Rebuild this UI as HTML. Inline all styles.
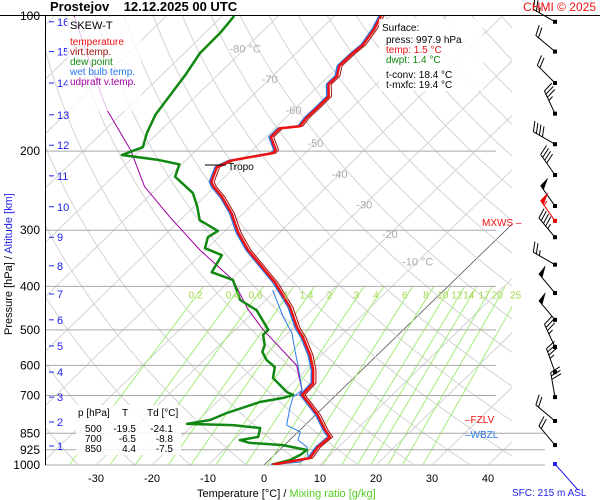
<!DOCTYPE html>
<html><head><meta charset="utf-8"><style>
html,body{margin:0;padding:0;background:#fff;}
svg{display:block;font-family:"Liberation Sans",sans-serif;}
</style></head><body>
<svg id="chart" width="600" height="500" viewBox="0 0 600 500">
<defs><clipPath id="pc"><rect x="45" y="16" width="467" height="449"/></clipPath></defs>
<g id="grid" clip-path="url(#pc)"></g>
<g id="plines"></g>
<g id="series" clip-path="url(#pc)"></g>
<g id="labels"></g>
<g id="barbs"></g>
</svg>
<script>
// ---- data ----
const pressureLevels=[100,200,300,400,500,600,700,850,925,1000];
const tempTicks=[-30,-20,-10,0,10,20,30,40];
const isoLabelT=[-80,-70,-60,-50,-40,-30,-20,-10];
const mixRatios=[0.2,0.4,0.6,1,1.4,2,3,4,6,8,10,12,14,17,20,25];
const altKm=[16,15,14,13,12,11,10,9,8,7,6,5,4,3,2,1];
const altPres=[103,120,141,166,194,227,266,311,360,416,475,543,621,706,802,907];
const tempP=[998,965,912,866,836,774,735,698,657,614,569,519,495,445,393,332,304,275,253,240,234,217,210,202,199,186,178,176,168,160,151,142,136,129,121,116,107,100];
const tempT=[1.5,6.9,6.3,6.6,4.5,0.4,-2.8,-6.1,-6.3,-8.7,-12.0,-16.6,-19.3,-24.4,-31.5,-42.4,-47.3,-52.1,-56.8,-60.2,-61.5,-63.2,-62.0,-55.8,-55.8,-59.1,-59.1,-55.9,-56.3,-56.2,-56.25,-58.5,-58.5,-60,-59.9,-59.6,-60.5,-61.7];
const dewP=[998,975,950,926,903,893,880,866,827,815,810,794,766,724,709,698,688,640,605,584,560,541,513,500,452,429,387,372,341,329,311,301,285,266,248,228,214,209,204,196,182,166,150,135,121,109,100];
const dewT=[1.4,3.7,4.6,4.9,-0.3,-6.6,-8.9,-6.2,-7.5,-12.9,-21.3,-17.9,-16.2,-12.3,-8.9,-7.7,-9.3,-14.4,-16.1,-18.8,-21.1,-21.9,-24.1,-24.1,-29.8,-34.6,-39.6,-44.8,-46.1,-50.4,-51.9,-51.3,-56.5,-59.4,-62.7,-68.9,-70.4,-75.2,-82.4,-80.1,-82.0,-83.8,-84.8,-85.8,-87.2,-87.3,-87.9];
const wetP=[998,985,960,912,880,844,815,743,706,681,605,555,508,468,408];
const wetT=[1.45,5.9,6.4,4.4,1.5,0.4,-3.3,-6.0,-7.3,-7.0,-11.9,-15.6,-19.3,-23.8,-30.6];
const parcelP=[700,681,600,500,450,387,332,280,240,199,162,130,100];
const parcelT=[-6.5,-7.0,-12.5,-25.0,-31.5,-39.6,-51.0,-62.5,-72.5,-81.7,-93.3,-104,-116.5];
const windP=[103,120,141,165,193,226,265,286,311,358,414,475,546,621,706,798,903];
const windDir=[300,310,315,335,300,325,325,325,320,300,320,320,335,340,350,310,320];
const windSpd=[25,20,20,35,40,40,50,55,45,25,50,50,35,35,30,20,20];
// ---- axes ----
const Y=p=>16+449*Math.log10(p/100);
const X=(T,p)=>264+5.6*T+1.03*(465-Y(p));
const NS="http://www.w3.org/2000/svg";
function mk(parent,tag,attrs,text){const e=document.createElementNS(NS,tag);for(const k in attrs)e.setAttribute(k,attrs[k]);if(text!==undefined)e.textContent=text;parent.appendChild(e);return e;}
const grid=document.getElementById('grid'),pl=document.getElementById('plines'),ser=document.getElementById('series'),lab=document.getElementById('labels'),bar=document.getElementById('barbs');
for(let T=-160;T<=60;T+=10){const l=mk(grid,'line',{x1:X(T,1000),y1:Y(1000),x2:X(T,100),y2:Y(100),stroke:T===0?'#555':'#d4d4d4','stroke-width':T===0?0.8:1});

}
for(let th=200;th<=480;th+=10){let d='';for(let p=1000;p>=100;p-=10){const T=th*Math.pow(p/1000,0.286)-273.15;d+=(d?'L':'M')+X(T,p).toFixed(1)+' '+Y(p).toFixed(1);}
const a=mk(grid,'path',{d:d,fill:'none',stroke:'#d4d4d4','stroke-width':1});

}
function tdFromW(w,p){const e=w*p/(622+w);const l=Math.log(e/6.112);return 243.5*l/(17.67-l);}
mixRatios.forEach(w=>{const m=mk(grid,'line',{x1:X(tdFromW(w,1000),1000),y1:Y(1000),x2:X(tdFromW(w,400),400),y2:Y(400),stroke:'#a6ec7a','stroke-width':1});


const t=mk(lab,'text',{x:X(tdFromW(w,400),400)-8,y:Y(400)+12,'font-size':10,fill:'#a4d84a','text-anchor':'middle'},String(w));

});
pressureLevels.forEach(p=>{const y=Y(p);if(p>100){const l=mk(pl,'line',{x1:45,y1:y,x2:p>=850?545:496,y2:y,stroke:'#a8a8a8','stroke-width':1});

}
const t=mk(lab,'text',{x:40,y:y+4,'font-size':12,'text-anchor':'end',fill:'#000'},String(p));

});
mk(pl,'line',{x1:0,y1:15.5,x2:600,y2:15.5,stroke:'#000','stroke-width':1});
mk(pl,'line',{x1:45.5,y1:16,x2:45.5,y2:465,stroke:'#000','stroke-width':1});
altKm.forEach((k,i)=>{const y=Y(altPres[i]);mk(lab,'line',{x1:49,y1:y,x2:54,y2:y,stroke:'#2222ee','stroke-width':1});
const t=mk(lab,'text',{x:57,y:y+4,'font-size':11,fill:'#2222ee'},String(k));

});
tempTicks.forEach(T=>{const t=mk(lab,'text',{x:X(T,1000),y:482,'font-size':11,'text-anchor':'middle',fill:'#000'},String(T));

});
const isoLabelP=[118,138,162,192,225,263,306,352];
isoLabelT.forEach((T,i)=>{const p=isoLabelP[i];const t=mk(lab,'text',{x:X(T,p),y:Y(p)+4,'font-size':11,'text-anchor':'middle',fill:'#aaa'},(T===-80||T===-10)?T+' °C':String(T));

});
function line(P,T,color,w,name){let d='';P.forEach((p,i)=>{d+=(i?'L':'M')+X(T[i],p).toFixed(1)+' '+Y(p).toFixed(1);});
const e=mk(ser,'path',{d:d,fill:'none',stroke:color,'stroke-width':w,'stroke-linejoin':'round'});

}
line(parcelP,parcelT,'#a000a0',1,'updraft-virtual-temp-line');
line(wetP,wetT,'#2a7ae8',1,'wet-bulb-line');
line(tempP,tempT.map(t=>t-0.3),'#2a7ae8',2,'wet-bulb-upper-line');
line(tempP,tempT.map(t=>t+0.5),'#a01010',1,'virtual-temp-line');
line(dewP,dewT,'#118811',2.5,'dew-point-line');
line(tempP,tempT,'#ee1111',2.5,'temperature-line');
windP.forEach((p,i)=>{const y=Y(p),x=555;const a=windDir[i]*Math.PI/180;const ux=Math.sin(a),uy=-Math.cos(a);
const L=25,ex=x+ux*L,ey=y+uy*L;const g=mk(bar,'g',{stroke:i===7?'#e00':'#000',fill:i===7?'#e00':'#000'});


mk(g,'line',{x1:x,y1:y,x2:ex,y2:ey,'stroke-width':1});
mk(g,'rect',{x:x-2,y:y-2,width:4,height:4,stroke:'none'});
let s=windSpd[i],pos=0;const px=-uy,py=ux;
while(s>=50){const bx=ex-ux*pos,by=ey-uy*pos;mk(g,'polygon',{points:`${bx},${by} ${bx+px*10+ux*2},${by+py*10+uy*2} ${bx-ux*5},${by-uy*5}`,'stroke-width':0.5});pos+=6;s-=50;}
while(s>=10){const bx=ex-ux*pos,by=ey-uy*pos;mk(g,'line',{x1:bx,y1:by,x2:bx+px*10+ux*4,y2:by+py*10+uy*4,'stroke-width':1});pos+=3.5;s-=10;}
if(s>=5){const bx=ex-ux*pos,by=ey-uy*pos;mk(g,'line',{x1:bx,y1:by,x2:bx+px*5+ux*2,y2:by+py*5+uy*2,'stroke-width':1});}});
mk(bar,'line',{x1:555,y1:464,x2:578,y2:490,stroke:'#2222ee','stroke-width':1});
mk(bar,'rect',{x:553,y:462,width:4,height:4,fill:'#2222ee'});
</script>
<svg width="600" height="500" style="position:absolute;left:0;top:0" font-family="Liberation Sans, sans-serif">
<text x="50" y="11" font-size="13" font-weight="bold">Prostejov&#160;&#160;&#160;&#160;12.12.2025 00 UTC</text>
<text x="596" y="11" font-size="12" fill="#ee1111" text-anchor="end">CHMI © 2025</text>
<rect x="67" y="17" width="74" height="94" fill="#fff" fill-opacity="0.75"/>
<text x="70" y="29" font-size="11">SKEW-T</text>
<text x="70" y="45" font-size="10" fill="#ee1111">temperature</text>
<text x="70" y="55" font-size="10" fill="#a01010">virt.temp.</text>
<text x="70" y="65" font-size="10" fill="#118811">dew point</text>
<text x="70" y="75" font-size="10" fill="#2a7ae8">wet bulb temp.</text>
<text x="70" y="85" font-size="10" fill="#a000a0">udpraft v.temp.</text>
<rect x="379" y="19" width="104" height="72" fill="#fff" fill-opacity="0.85"/>
<g font-size="10">
<text x="382" y="31">Surface:</text>
<text x="386" y="43">press: 997.9 hPa</text>
<text x="386" y="53" fill="#ee1111">temp: 1.5 °C</text>
<text x="386" y="63" fill="#118811">dwpt: 1.4 °C</text>
<text x="386" y="78">t-conv: 18.4 °C</text>
<text x="386" y="88">t-mxfc: 19.4 °C</text>
</g>
<rect x="76" y="405" width="105" height="50" fill="#fff" fill-opacity="0.85"/>
<g font-size="10">
<text x="78" y="416">p [hPa]</text><text x="125" y="416" text-anchor="middle">T</text><text x="147" y="416">Td [°C]</text>
<text x="85" y="432">500</text><text x="136" y="432" text-anchor="end">-19.5</text><text x="173" y="432" text-anchor="end">-24.1</text>
<text x="85" y="442">700</text><text x="136" y="442" text-anchor="end">-6.5</text><text x="173" y="442" text-anchor="end">-8.8</text>
<text x="85" y="452">850</text><text x="136" y="452" text-anchor="end">4.4</text><text x="173" y="452" text-anchor="end">-7.5</text>
</g>
<line x1="205" y1="165" x2="226" y2="165" stroke="#000"/>
<text x="228" y="170" font-size="10">Tropo</text>
<text x="482" y="226" font-size="10" fill="#ee1111">MXWS –</text>
<text x="465" y="423" font-size="10" fill="#ee1111">–FZLV</text>
<text x="465" y="438" font-size="10" fill="#2a7ae8">–WBZL</text>
<text x="197" y="497" font-size="11">Temperature [°C]  /  <tspan fill="#55cc22">Mixing ratio [g/kg]</tspan></text>
<text x="512" y="496" font-size="10" fill="#2222ee">SFC: 215 m ASL</text>
<text transform="translate(12,335) rotate(-90)" font-size="11">Pressure [hPa]  /  <tspan fill="#2222ee">Altitude [km]</tspan></text>
</svg>
</body></html>
